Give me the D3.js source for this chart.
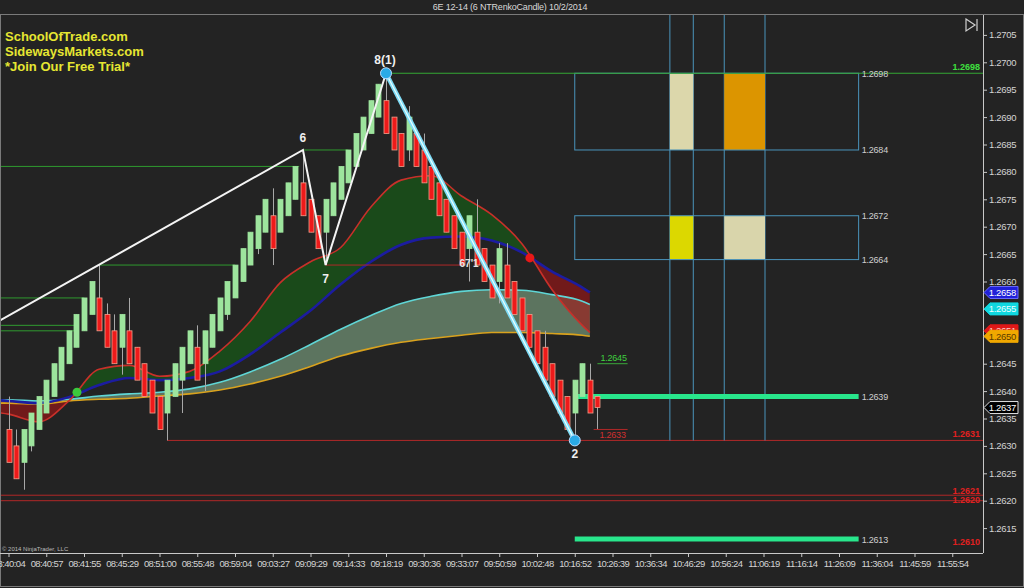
<!DOCTYPE html>
<html><head><meta charset="utf-8">
<script src="https://cdn.jsdelivr.net/npm/d3@7"></script>
<style>html,body{margin:0;padding:0;background:#232323;overflow:hidden}</style>
</head><body><svg id="c" width="1024" height="588"></svg>
<script>
const chartTitle = "6E 12-14 (6 NTRenkoCandle)  10/2/2014";
const promoLines = ["SchoolOfTrade.com", "SidewaysMarkets.com", "*Join Our Free Trial*"];
const timeLabels = ["08:40:04","08:40:57","08:41:55","08:45:29","08:51:00","08:55:48","08:59:04","09:03:27","09:09:29","09:14:33","09:18:19","09:30:36","09:33:07","09:50:59","10:02:48","10:16:52","10:26:39","10:36:34","10:46:29","10:56:24","11:06:19","11:16:14","11:26:09","11:36:04","11:45:59","11:55:54"];
const priceTicks = [1.2615,1.2620,1.2625,1.2630,1.2635,1.2640,1.2645,1.2650,1.2655,1.2660,1.2665,1.2670,1.2675,1.2680,1.2685,1.2690,1.2695,1.2700,1.2705];

const opens  = [1.2633,1.2630,1.2627,1.2630,1.2633,1.2636,1.2639,1.2642,1.2645,1.2648,1.2651,1.2654,1.2657,1.2654,1.2651,1.2648,1.2651,1.2648,1.2645,1.2642,1.2639,1.2636,1.2639,1.2642,1.2645,1.2648,1.2645,1.2648,1.2651,1.2654,1.2657,1.2660,1.2663,1.2666,1.2669,1.2672,1.2669,1.2672,1.2675,1.2678,1.2675,1.2672,1.2669,1.2672,1.2675,1.2678,1.2681,1.2684,1.2687,1.2690,1.2693,1.2690,1.2687,1.2684,1.2687,1.2684,1.2681,1.2678,1.2675,1.2672,1.2669,1.2666,1.2669,1.2666,1.2663,1.2660,1.2663,1.2660,1.2657,1.2654,1.2651,1.2648,1.2645,1.2642,1.2639,1.2636,1.2639,1.2642,1.2639];
const closes = [1.2627,1.2624,1.2633,1.2636,1.2639,1.2642,1.2645,1.2648,1.2651,1.2654,1.2657,1.2660,1.2651,1.2648,1.2645,1.2654,1.2645,1.2642,1.2639,1.2636,1.2633,1.2642,1.2645,1.2648,1.2651,1.2642,1.2651,1.2654,1.2657,1.2660,1.2663,1.2666,1.2669,1.2672,1.2675,1.2666,1.2675,1.2678,1.2681,1.2672,1.2669,1.2666,1.2675,1.2678,1.2681,1.2684,1.2687,1.2690,1.2693,1.2696,1.2687,1.2684,1.2681,1.2690,1.2681,1.2678,1.2675,1.2672,1.2669,1.2666,1.2663,1.2672,1.2663,1.2660,1.2657,1.2666,1.2657,1.2654,1.2651,1.2648,1.2645,1.2642,1.2639,1.2636,1.2633,1.2642,1.2645,1.2636,1.2637];
const highs  = [1.2639,1.2633,1.2633,1.2636,1.2639,1.2642,1.2645,1.2648,1.2651,1.2654,1.2657,1.2660,1.2663,1.2656,1.2654,1.2654,1.2657,1.2648,1.2645,1.2642,1.2639,1.2642,1.2645,1.2648,1.2651,1.2652,1.2651,1.2654,1.2657,1.2660,1.2663,1.2666,1.2669,1.2672,1.2675,1.2677,1.2675,1.2678,1.2681,1.2684,1.2675,1.2672,1.2675,1.2678,1.2681,1.2684,1.2687,1.2690,1.2693,1.2696,1.2698,1.2690,1.2687,1.2692,1.2687,1.2687,1.2681,1.2678,1.2675,1.2672,1.2669,1.2672,1.2675,1.2666,1.2663,1.2667,1.2667,1.2660,1.2657,1.2654,1.2651,1.2651,1.2645,1.2642,1.2639,1.2642,1.2645,1.2645,1.2639];
const lows   = [1.2627,1.2624,1.2622,1.2629,1.2633,1.2636,1.2639,1.2642,1.2645,1.2648,1.2651,1.2654,1.2651,1.2648,1.2645,1.2643,1.2645,1.2642,1.2639,1.2636,1.2633,1.2631,1.2639,1.2636,1.2645,1.2642,1.2640,1.2648,1.2651,1.2653,1.2657,1.2660,1.2663,1.2665,1.2669,1.2663,1.2669,1.2672,1.2675,1.2672,1.2669,1.2666,1.2663,1.2672,1.2675,1.2678,1.2681,1.2684,1.2687,1.2690,1.2687,1.2684,1.2681,1.2682,1.2681,1.2678,1.2675,1.2672,1.2669,1.2666,1.2663,1.2660,1.2663,1.2660,1.2657,1.2656,1.2657,1.2654,1.2651,1.2648,1.2645,1.2642,1.2639,1.2636,1.2633,1.2632,1.2639,1.2636,1.2633];

const maBars   = [-2,0,4,8,12,16,20,24,28,32,36,40,44,48,52,56,60,64,68,72,76,77];
const maRed    = [1.26362,1.26358,1.26344,1.26382,1.26440,1.26447,1.26427,1.26436,1.26473,1.26527,1.26598,1.26636,1.26662,1.26736,1.26785,1.26793,1.26756,1.26722,1.26669,1.26585,1.26520,1.26507];
const maBlue   = [1.26384,1.26382,1.26378,1.26389,1.26411,1.26424,1.26420,1.26424,1.26436,1.26467,1.26507,1.26547,1.26595,1.26636,1.26667,1.26680,1.26682,1.26675,1.26653,1.26618,1.26589,1.26580];
const maCyan   = [1.26382,1.26384,1.26382,1.26385,1.26391,1.26395,1.26398,1.26404,1.26416,1.26435,1.26458,1.26485,1.26513,1.26538,1.26560,1.26573,1.26582,1.26585,1.26584,1.26576,1.26564,1.26558];
const maOrange = [1.26378,1.26378,1.26376,1.26382,1.26385,1.26387,1.26391,1.26395,1.26402,1.26413,1.26427,1.26445,1.26464,1.26478,1.26489,1.26496,1.26502,1.26507,1.26507,1.26505,1.26502,1.26500];

const zigBars   = [-10, 39, 42, 50];
const zigPrices = [1.2646, 1.2684, 1.2663, 1.2698];
const legBars   = [50, 75];
const legPrices = [1.2698, 1.2631];

const greenLevels = [1.2681, 1.2684, 1.2663, 1.2657, 1.2652, 1.2651];
const greenFrom   = [-2, 39, 12, -2, -2, -2];
const greenTo     = [38.5, 45, 30, 10, 9, 9];
const redLevels = [1.2663, 1.2631, 1.2621, 1.2620];
const redFrom   = [42, 21, -2, -2];
const redTo     = [60, 130, 130, 130];

const boxTop    = [1.2698, 1.2672];
const boxBottom = [1.2684, 1.2664];
const boxFrom = 75, boxTo = 112.6;
const vLineBars = [87.6, 90.7, 94.8, 100.2];
const cellColors = [["#dcd7ab", "#dc9500"], ["#dcd800", "#d9d5ab"]];
const thickLevels = [1.2639, 1.2613];
const axisMarkers = [
  {p:1.2658, fill:"#2020d8", stroke:"#6a6aff", text:"#ffffff"},
  {p:1.2655, fill:"#10d8e0", stroke:"#10d8e0", text:"#e8ffff"},
  {p:1.2651, fill:"#e01818", stroke:"#e01818", text:"#ffcccc"},
  {p:1.2650, fill:"#f0a800", stroke:"#f0a800", text:"#5a3a00"},
  {p:1.2637, fill:"#000000", stroke:"#e0e0e0", text:"#ffffff"}];

const svg = d3.select("#c");
const F = "Arial, 'Liberation Sans', sans-serif";
const xs = d3.scaleLinear().domain([0,125]).range([8.5, 8.5+7.55*125]);
const ys = d3.scaleLinear().domain([1.2610,1.2705]).range([62.3+90*5.48, 62.3-5*5.48]);
const PL=1, PR=983, PT=15, PB=553;

svg.append("rect").attr("width",1024).attr("height",588).attr("fill","#232323");
svg.append("line").attr("x1",0).attr("x2",1024).attr("y1",14.5).attr("y2",14.5).attr("stroke","#8a8a8a");
svg.append("rect").attr("x",0.5).attr("y",14.5).attr("width",1023).attr("height",572).attr("fill","none").attr("stroke","#7a7a7a");
svg.append("text").attr("x",510).attr("y",10).attr("text-anchor","middle").attr("font-family",F).attr("font-size",9).attr("letter-spacing",-0.2).attr("fill","#d8d8d8").text(chartTitle);

const defs = svg.append("defs");
defs.append("clipPath").attr("id","plot").append("rect").attr("x",PL).attr("y",PT).attr("width",PR-PL).attr("height",PB-PT);
const curve = d3.curveMonotoneX;
const idx = d3.range(maBars.length);
defs.append("clipPath").attr("id","aboveBlue").append("path")
  .attr("d", d3.area().x(i=>xs(maBars[i])).y0(0).y1(i=>ys(maBlue[i])).curve(curve)(idx));
defs.append("clipPath").attr("id","belowBlue").append("path")
  .attr("d", d3.area().x(i=>xs(maBars[i])).y0(600).y1(i=>ys(maBlue[i])).curve(curve)(idx));

const g = svg.append("g").attr("clip-path","url(#plot)");

g.append("path").attr("d", d3.area().x(i=>xs(maBars[i])).y0(i=>ys(maOrange[i])).y1(i=>ys(maCyan[i])).curve(curve)(idx))
  .attr("fill","rgb(130,170,135)").attr("fill-opacity",0.6);
const rb = d3.area().x(i=>xs(maBars[i])).y0(i=>ys(maBlue[i])).y1(i=>ys(maRed[i])).curve(curve);
g.append("g").attr("clip-path","url(#aboveBlue)").append("path").attr("d", rb(idx)).attr("fill","rgb(20,100,20)").attr("fill-opacity",0.6);
g.append("g").attr("clip-path","url(#belowBlue)").append("path").attr("d", rb(idx)).attr("fill","rgb(165,20,20)").attr("fill-opacity",0.6);

const mkLine = arr => d3.line().x(i=>xs(maBars[i])).y(i=>ys(arr[i])).curve(curve)(idx);
g.append("path").attr("d",mkLine(maOrange)).attr("fill","none").attr("stroke","#d9a21e").attr("stroke-width",1.6);
g.append("path").attr("d",mkLine(maCyan)).attr("fill","none").attr("stroke","#5fd6d6").attr("stroke-width",1.6);
g.append("path").attr("d",mkLine(maBlue)).attr("fill","none").attr("stroke","#1c1ca0").attr("stroke-width",2.6);
g.append("path").attr("d",mkLine(maRed)).attr("fill","none").attr("stroke","#c8302a").attr("stroke-width",1.6);

greenLevels.forEach((p,i)=>g.append("line").attr("x1",xs(greenFrom[i])).attr("x2",xs(greenTo[i])).attr("y1",ys(p)).attr("y2",ys(p)).attr("stroke","#2f9a2f").attr("stroke-width",1));
redLevels.forEach((p,i)=>g.append("line").attr("x1",xs(redFrom[i])).attr("x2",xs(redTo[i])).attr("y1",ys(p)).attr("y2",ys(p)).attr("stroke","#b02828").attr("stroke-width",1));

const boxColor = "#4a94bc";
const smallLab = (x,y,t,c)=>svg.append("text").attr("x",x).attr("y",y).attr("font-family",F).attr("font-size",9).attr("letter-spacing",-0.2).attr("fill",c).text(t);
vLineBars.forEach(b=>g.append("line").attr("x1",xs(b)).attr("x2",xs(b)).attr("y1",PT).attr("y2",ys(1.2631)).attr("stroke",boxColor));
boxTop.forEach((t,i)=>{
  g.append("rect").attr("x",xs(vLineBars[0])).attr("width",xs(vLineBars[1])-xs(vLineBars[0])).attr("y",ys(t)).attr("height",ys(boxBottom[i])-ys(t)).attr("fill",cellColors[i][0]);
  g.append("rect").attr("x",xs(vLineBars[2])).attr("width",xs(vLineBars[3])-xs(vLineBars[2])).attr("y",ys(t)).attr("height",ys(boxBottom[i])-ys(t)).attr("fill",cellColors[i][1]);
  g.append("rect").attr("x",xs(boxFrom)).attr("width",xs(boxTo)-xs(boxFrom)).attr("y",ys(t)).attr("height",ys(boxBottom[i])-ys(t)).attr("fill","none").attr("stroke",boxColor);
  [t, boxBottom[i]].forEach(p=>smallLab(xs(boxTo)+3, ys(p)+3.5, p.toFixed(4), "#d0d0d0"));
});
g.append("line").attr("x1",xs(50)).attr("x2",PR).attr("y1",ys(1.2698)).attr("y2",ys(1.2698)).attr("stroke","#35a835");

thickLevels.forEach(p=>{
  g.append("line").attr("x1",xs(boxFrom)).attr("x2",xs(boxTo)).attr("y1",ys(p)).attr("y2",ys(p)).attr("stroke","#28e68c").attr("stroke-width",5);
  smallLab(xs(boxTo)+3, ys(p)+3.5, p.toFixed(4), "#d0d0d0");
});

const bars = d3.range(opens.length);
const cg = g.append("g");
cg.selectAll(".wick").data(bars).join("line").attr("x1",i=>Math.round(xs(i))+0.5).attr("x2",i=>Math.round(xs(i))+0.5)
  .attr("y1",i=>ys(highs[i])).attr("y2",i=>ys(lows[i])).attr("stroke","#a8a8a8");
cg.selectAll(".body").data(bars).join("rect")
  .attr("x",i=>Math.round(xs(i))-2).attr("width",5)
  .attr("y",i=>ys(Math.max(opens[i],closes[i])))
  .attr("height",i=>Math.abs(ys(opens[i])-ys(closes[i])))
  .attr("fill",i=>closes[i]>=opens[i]?"#9de49d":"#ee1a1a")
  .attr("stroke",i=>closes[i]>=opens[i]?"#9de49d":"#f2a08c").attr("stroke-width",0.8);

g.append("line").attr("x1",xs(78)).attr("x2",xs(82)).attr("y1",ys(1.2645)).attr("y2",ys(1.2645)).attr("stroke","#3aa83a");
smallLab(xs(78)+3, ys(1.2645)-3, "1.2645", "#3fd03f");
g.append("line").attr("x1",xs(77.5)).attr("x2",xs(82)).attr("y1",ys(1.2633)).attr("y2",ys(1.2633)).attr("stroke","#b02828");
smallLab(xs(78)+2, ys(1.2633)+9, "1.2633", "#d03030");

const zl = d3.line().x((d,i)=>xs(zigBars[i])).y((d,i)=>ys(zigPrices[i]));
g.append("path").attr("d",zl(zigBars)).attr("fill","none").attr("stroke","#f4f4f4").attr("stroke-width",2);
const ll = d3.line().x((d,i)=>xs(legBars[i])).y((d,i)=>ys(legPrices[i]));
g.append("path").attr("d",ll(legBars)).attr("fill","none").attr("stroke","#7fdcf6").attr("stroke-width",4.5);
g.append("path").attr("d",ll(legBars)).attr("fill","none").attr("stroke","#eaffff").attr("stroke-width",1.2);
legBars.forEach((b,i)=>g.append("circle").attr("cx",xs(b)).attr("cy",ys(legPrices[i])).attr("r",5.5).attr("fill","#2aaae6").attr("stroke","#bbddff").attr("stroke-width",1));
const lab = (x,y,t)=>svg.append("text").attr("x",x).attr("y",y).attr("text-anchor","middle").attr("font-family",F).attr("font-weight","bold").attr("font-size",12).attr("fill","#f0f0f0").text(t);
lab(xs(39), ys(1.2684)-8, "6");
lab(xs(42), ys(1.2663)+18, "7");
lab(xs(50)-1, ys(1.2698)-9, "8(1)");
lab(xs(75), ys(1.2631)+18, "2");
svg.append("text").attr("x",xs(61)).attr("y",ys(1.2663)+2).attr("text-anchor","middle").attr("font-family",F).attr("font-weight","bold").attr("font-size",10).attr("fill","#e6e6e6").text("67'1");

g.append("circle").attr("cx",xs(9.07)).attr("cy",ys(1.26398)).attr("r",4.5).attr("fill","#3cc83c");
g.append("circle").attr("cx",xs(69.06)).attr("cy",ys(1.26643)).attr("r",4.5).attr("fill","#e81818");

const rlab = (p,t,c,dy)=>svg.append("text").attr("x",980).attr("y",ys(p)+dy).attr("text-anchor","end").attr("font-family",F).attr("font-weight","bold").attr("font-size",9).attr("fill",c).text(t);
rlab(1.2698,"1.2698","#3fe03f",-3);
rlab(1.2631,"1.2631","#e02020",-3);
rlab(1.2621,"1.2621","#e02020",-1);
rlab(1.2620,"1.2620","#e02020",2);
rlab(1.2612,"1.2610","#e02020",0);

const ya = svg.append("g").attr("transform",`translate(${PR},0)`)
  .call(d3.axisRight(ys).tickValues(priceTicks).tickSize(4).tickPadding(2).tickFormat(d3.format(".4f")));
ya.select(".domain").remove();
ya.selectAll("line").attr("stroke","#c8c8c8");
ya.selectAll("text").attr("font-family",F).attr("font-size",9.5).attr("letter-spacing",-0.3).attr("fill","#d4d4d4");
svg.append("line").attr("x1",PR+0.5).attr("x2",PR+0.5).attr("y1",PT).attr("y2",PB).attr("stroke","#c8c8c8");
const xa = svg.append("g").attr("transform",`translate(0,${PB})`)
  .call(d3.axisBottom(xs).tickValues(d3.range(0,126,5)).tickSize(4).tickPadding(3).tickFormat(i=>timeLabels[i/5]));
xa.select(".domain").remove();
xa.selectAll("line").attr("stroke","#c8c8c8");
xa.selectAll("text").attr("font-family",F).attr("font-size",9.5).attr("letter-spacing",-0.6).attr("fill","#d4d4d4");
svg.append("line").attr("x1",0).attr("x2",PR).attr("y1",PB+0.5).attr("y2",PB+0.5).attr("stroke","#c8c8c8");

axisMarkers.forEach(m=>{
  const y = ys(m.p);
  svg.append("path").attr("d",`M${PR+1},${y} L${PR+7},${y-6} L1018,${y-6} L1018,${y+6} L${PR+7},${y+6} Z`).attr("fill",m.fill).attr("stroke",m.stroke);
  svg.append("text").attr("x",1016).attr("y",y+3.5).attr("text-anchor","end").attr("font-family",F).attr("font-size",9.5).attr("letter-spacing",-0.3).attr("fill",m.text).text(m.p.toFixed(4));
});

promoLines.forEach((t,i)=>svg.append("text").attr("x",5).attr("y",41+i*15).attr("font-family",F).attr("font-weight","bold").attr("font-size",13).attr("fill","#e6e632").text(t));
svg.append("text").attr("x",2).attr("y",551).attr("font-family",F).attr("font-size",6).attr("fill","#bbbbbb").text("© 2014 NinjaTrader, LLC");
svg.append("path").attr("d","M966,19 L975,25 L966,31 Z M977,19 L977,31").attr("fill","none").attr("stroke","#cfcfcf").attr("stroke-width",1.2);
</script></body></html>
